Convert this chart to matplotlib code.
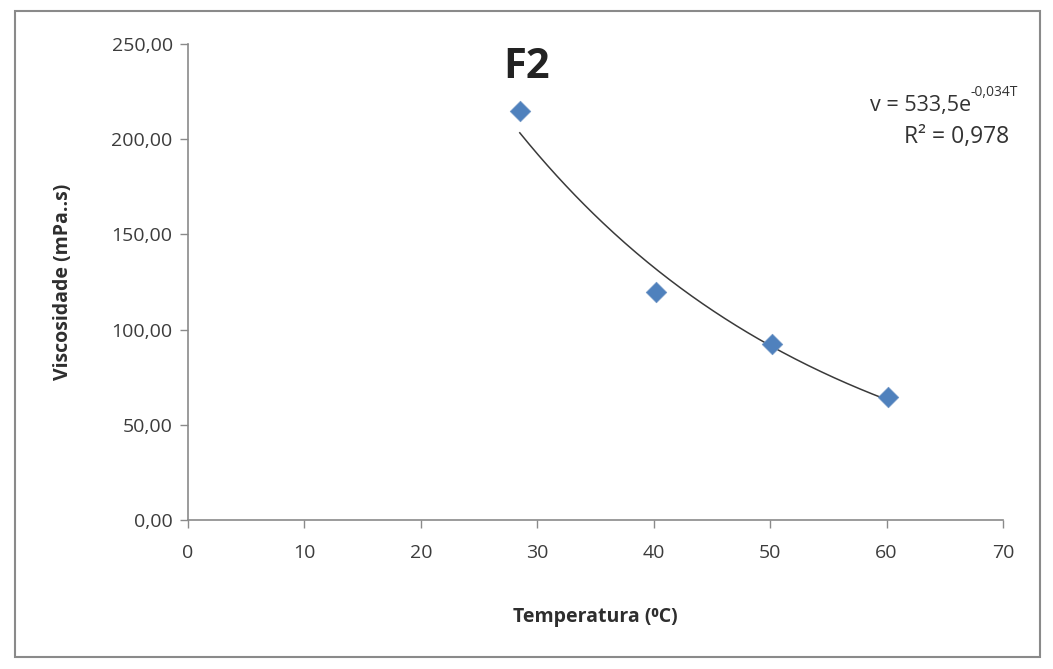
import matplotlib
matplotlib.use('Agg')
import matplotlib.pyplot as plt
from matplotlib.patches import Rectangle
from matplotlib.ticker import FuncFormatter
import numpy as np

# data
temperatura = [28.5, 40.2, 50.2, 60.1]
viscosidade = [215.0, 119.7, 92.4, 64.6]
x_ticks = [0, 10, 20, 30, 40, 50, 60, 70]
y_ticks = [0, 50, 100, 150, 200, 250]
titulo = 'F2'
equacao = 'v = 533,5e'
expoente = '-0,034T'
r2_texto = 'R\u00b2 = 0,978'

plt.rcParams['font.family'] = ['Open Sans', 'DejaVu Sans']

fig = plt.figure(figsize=(10.53, 6.69), dpi=100)
ax = fig.add_axes([0.1785, 0.2227, 0.774, 0.7115])

# chart frame (Excel chart area border)
fig.patches.append(Rectangle((0.014, 0.018), 0.974, 0.966, transform=fig.transFigure,
                             fill=False, edgecolor='#8a8a8a', linewidth=1.5))

ax.scatter(temperatura, viscosidade, marker='D', s=110, color='#4F81BD',
           edgecolor='#6f95c4', linewidth=0.5, zorder=3)

# exponential trendline fitted to the points
coef = np.polyfit(temperatura, np.log(viscosidade), 1)
xs = np.linspace(min(temperatura), max(temperatura), 200)
ax.plot(xs, np.exp(coef[1]) * np.exp(coef[0] * xs), color='#3a3a3a', linewidth=1.1, zorder=2)

ax.set_xlim(0, 70)
ax.set_ylim(0, 250)
ax.set_xticks(x_ticks)
ax.set_yticks(y_ticks)
ax.yaxis.set_major_formatter(FuncFormatter(lambda v, p: f'{v:.2f}'.replace('.', ',')))
ax.tick_params(axis='both', labelsize=14, colors='#8a8a8a', labelcolor='#3c3c3c',
               length=6, width=1)
ax.tick_params(axis='x', pad=11)
ax.tick_params(axis='y', pad=5)
for s in ['top', 'right']:
    ax.spines[s].set_visible(False)
for s in ['left', 'bottom']:
    ax.spines[s].set_color('#8a8a8a')
    ax.spines[s].set_linewidth(1.2)

ax.set_xlabel('Temperatura (\u2070C)', fontsize=14, fontweight='bold', color='#2e2e2e',
              labelpad=33)
ax.set_ylabel('Viscosidade (mPa..s)', fontsize=14, fontweight='bold', color='#2e2e2e',
              labelpad=28)

fig.text(527 / 1053, 1 - 67 / 669, titulo, fontsize=30, fontweight='bold',
         color='#222222', ha='center', va='center')

sup = fig.text(1018 / 1053, 1 - 96 / 669, expoente, fontsize=10, color='#333333',
               ha='right', va='baseline')
ax.annotate(equacao, xy=(0, 0), xycoords=sup, xytext=(0, -8), textcoords='offset points',
            fontsize=15.5, color='#333333', ha='right', va='baseline',
            annotation_clip=False)
fig.text(957 / 1053, 1 - 137 / 669, r2_texto, fontsize=16.5, color='#333333',
         ha='center', va='center')

fig.savefig('out.png', dpi=100)
